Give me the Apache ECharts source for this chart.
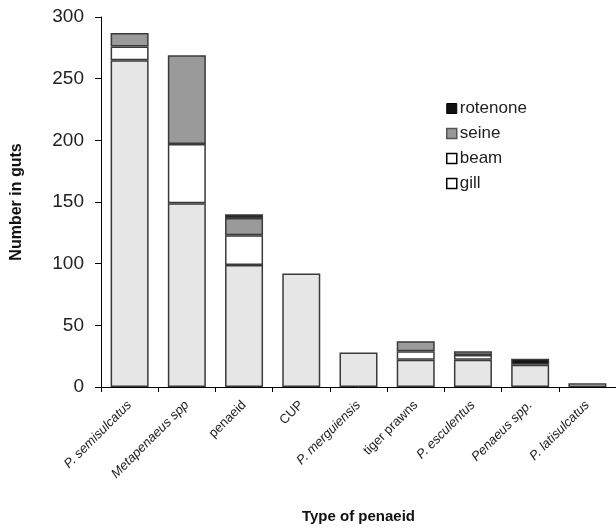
<!DOCTYPE html>
<html>
<head>
<meta charset="utf-8">
<script src="https://cdn.jsdelivr.net/npm/echarts@6/dist/echarts.min.js"></script>
<style>
  html, body { margin: 0; padding: 0; background: #fff; }
  #chart { width: 616px; height: 532px; }
</style>
</head>
<body>
<div id="chart"></div>
<script>
// categories along the x axis
const categories = ['P. semisulcatus', 'Metapenaeus spp', 'penaeid', 'CUP', 'P. merguiensis',
  'tiger prawns', 'P. esculentus', 'Penaeus spp.', 'P. latisulcatus']
// names printed in italics
const italicNames = ['P. semisulcatus', 'Metapenaeus spp', 'P. merguiensis', 'P. esculentus',
  'Penaeus spp.', 'P. latisulcatus']
// stacked counts, bottom to top
const gill = [265, 149, 99, 92, 28, 22, 22, 18, 3]
const beam = [11, 48, 24, 0, 0, 7, 4, 0, 0]
const seine = [11, 72, 14, 0, 0, 8, 3, 0, 0]
const rotenone = [0, 0, 3, 0, 0, 0, 0, 5, 0]

const chart = echarts.init(document.getElementById('chart'))
const font = "'Liberation Sans', Arial, sans-serif"

// zero segments are not drawn at all
const clean = arr => arr.map(v => (v === 0 ? '-' : v))

const makeSeries = (name, data, color) => ({
  name: name,
  type: 'bar',
  stack: 'total',
  barWidth: 38,
  data: clean(data),
  itemStyle: {
    color: color,
    borderColor: '#3a3a3a',
    borderWidth: 1.5
  }
})

const option = {
  animation: false,
  backgroundColor: '#fff',
  textStyle: { fontFamily: font },
  grid: {
    left: 101,
    right: 0,
    top: 17,
    bottom: 145
  },
  legend: {
    orient: 'vertical',
    left: 441,
    top: 95,
    itemWidth: 10,
    itemHeight: 10,
    itemGap: 8,
    icon: 'rect',
    textStyle: { fontSize: 17, color: '#222', fontFamily: font, padding: [0, 0, 0, -2] },
    data: [
      { name: 'rotenone', itemStyle: { color: '#111', borderColor: '#000', borderWidth: 1 } },
      { name: 'seine', itemStyle: { color: '#999', borderColor: '#555', borderWidth: 1.5 } },
      { name: 'beam', itemStyle: { color: '#fff', borderColor: '#000', borderWidth: 1.5 } },
      { name: 'gill', itemStyle: { color: '#fff', borderColor: '#000', borderWidth: 1.5 } }
    ]
  },
  xAxis: {
    type: 'category',
    data: categories,
    name: 'Type of penaeid',
    nameLocation: 'middle',
    nameGap: 122,
    nameTextStyle: { fontSize: 15, color: '#111', fontWeight: 'bold' },
    axisLine: { lineStyle: { color: '#000', width: 1 } },
    axisTick: { show: true, length: 5, lineStyle: { color: '#000' } },
    axisLabel: {
      rotate: 45,
      interval: 0,
      margin: 16,
      fontSize: 13,
      color: '#222',
      formatter: v => (italicNames.indexOf(v) >= 0 ? '{i|' + v + '}' : v),
      rich: {
        i: { fontStyle: 'italic', fontSize: 13, color: '#222' }
      }
    }
  },
  yAxis: {
    type: 'value',
    min: 0,
    max: 300,
    interval: 50,
    name: 'Number in guts',
    nameLocation: 'middle',
    nameGap: 76,
    nameTextStyle: { fontSize: 16, color: '#111', fontWeight: 'bold' },
    axisLine: { show: true, lineStyle: { color: '#000', width: 1 } },
    axisTick: { show: true, length: 6, lineStyle: { color: '#000' } },
    splitLine: { show: false },
    axisLabel: { fontSize: 19, color: '#222', margin: 17 }
  },
  series: [
    makeSeries('gill', gill, '#e6e6e6'),
    makeSeries('beam', beam, '#ffffff'),
    makeSeries('seine', seine, '#9a9a9a'),
    makeSeries('rotenone', rotenone, '#151515')
  ]
}

chart.setOption(option)
</script>
</body>
</html>
